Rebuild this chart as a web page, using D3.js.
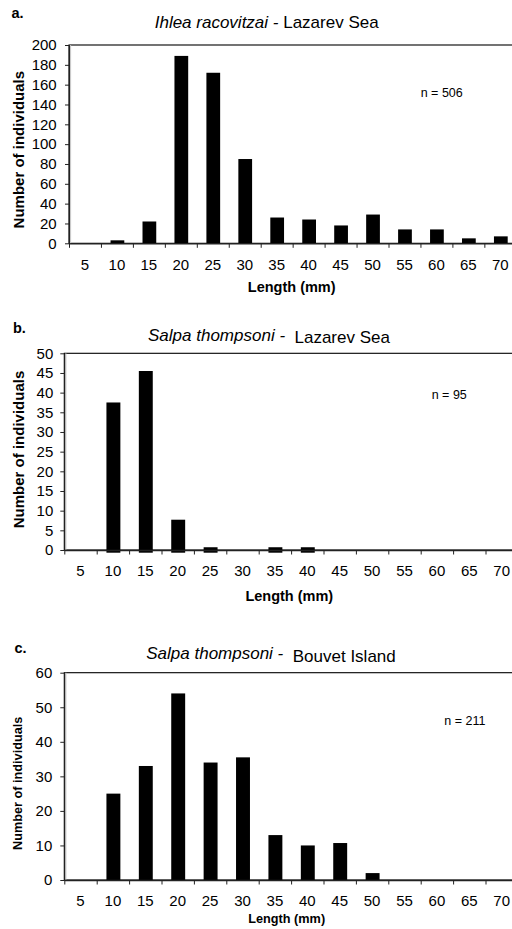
<!DOCTYPE html>
<html><head><meta charset="utf-8">
<script src="https://cdn.jsdelivr.net/npm/d3@7"></script>
<style>
html,body{margin:0;padding:0;background:#fff;}
svg{display:block;font-family:"Liberation Sans",Arial,sans-serif;}
</style></head>
<body>
<svg id="chart" width="512" height="929"></svg>
<script>
// ---- data ----
const lengthCategories = [5, 10, 15, 20, 25, 30, 35, 40, 45, 50, 55, 60, 65, 70];
const ihleaLazarev = [0, 3, 22, 189, 172, 85, 26, 24, 18, 29, 14, 14, 5, 7];
const salpaLazarev = [0, 37.5, 45.5, 7.7, 0.7, 0, 0.7, 0.7, 0, 0, 0, 0, 0, 0];
const salpaBouvet = [0, 25, 33, 54, 34, 35.5, 13, 10, 10.7, 2, 0, 0, 0, 0];
const ticksA = [0, 20, 40, 60, 80, 100, 120, 140, 160, 180, 200];
const ticksB = [0, 5, 10, 15, 20, 25, 30, 35, 40, 45, 50];
const ticksC = [0, 10, 20, 30, 40, 50, 60];
const panelLetters = ["a.", "b.", "c."];
const titleSpecies = ["Ihlea racovitzai", "Salpa thompsoni", "Salpa thompsoni"];
const titleRegions = ["Lazarev Sea", "Lazarev Sea", "Bouvet Island"];
const sampleSizes = ["n = 506", "n = 95", "n = 211"];
const xTitle = "Length (mm)";
const yTitle = "Number of individuals";

const svg = d3.select("#chart");
svg.append("rect").attr("width", 512).attr("height", 929).attr("fill", "#fff");

const panels = [
  {vals: ihleaLazarev, ticks: ticksA, max: 200, left: 69, catW: 31.95, top: 45, base: 243.3,
   letter: {x: 11.5, y: 18.3}, title: {x: 266.7, y: 28.3, dy2: 0, sep: " - "},
   n: {x: 420.7, y: 96.7}, yt: {x: 24, y: 149.7, fs: 15}, xt: {x: 291.7, y: 291.7, fs: 14.5},
   xlabY: 26.7, ylabPad: 8.3, barExt: 0},
  {vals: salpaLazarev, ticks: ticksB, max: 50, left: 64.3, catW: 32.4, top: 353.3, base: 550,
   letter: {x: 13, y: 333.3}, title: {x: 269, y: 340.7, dy2: 2.6, sep: " -  "},
   n: {x: 431.7, y: 399}, yt: {x: 24, y: 449.5, fs: 15}, xt: {x: 289.3, y: 601, fs: 14.5},
   xlabY: 26, ylabPad: 7, barExt: 2.7},
  {vals: salpaBouvet, ticks: ticksC, max: 60, left: 64.3, catW: 32.4, top: 672.7, base: 880,
   letter: {x: 14.5, y: 653.3}, title: {x: 271, y: 659.3, dy2: 2.4, sep: " -  "},
   n: {x: 444.3, y: 725}, yt: {x: 21.7, y: 783.3, fs: 12.7}, xt: {x: 286.7, y: 923.3, fs: 12.7},
   xlabY: 26.3, ylabPad: 8, barExt: 0}
];

panels.forEach((p, i) => {
  const g = svg.append("g");
  const right = p.left + p.catW * lengthCategories.length;
  const x = d3.scaleBand().domain(lengthCategories).range([p.left, right]).padding(0);
  const xEdge = d3.scaleLinear().domain([0, lengthCategories.length]).range([p.left, right]);
  const y = d3.scaleLinear().domain([0, p.max]).range([p.base, p.top]);

  // plot area border (top / right)
  g.append("rect").attr("x", p.left).attr("y", p.top)
    .attr("width", right - p.left).attr("height", p.base - p.top)
    .attr("fill", "none").attr("stroke", "#000").attr("stroke-width", 1.1);

  // bars
  const bw = x.bandwidth() * 0.43;
  g.selectAll("rect.bar").data(lengthCategories.map((c, k) => ({c, v: p.vals[k]})).filter(d => d.v > 0))
    .enter().append("rect").attr("class", "bar")
    .attr("x", d => x(d.c) + x.bandwidth() / 2 - bw / 2 + 0.5)
    .attr("y", d => y(d.v))
    .attr("width", bw)
    .attr("height", d => y(0) - y(d.v) + p.barExt)
    .attr("fill", "#000");

  // y axis
  const ya = g.append("g").attr("transform", `translate(${p.left},0)`)
    .call(d3.axisLeft(y).tickValues(p.ticks).tickSize(4).tickPadding(p.ylabPad).tickSizeOuter(0));
  ya.select(".domain").attr("stroke", "#222").attr("stroke-width", 1.3);
  ya.selectAll(".tick line").attr("stroke", "#222").attr("stroke-width", 1);
  ya.selectAll("text").attr("font-size", 15).attr("fill", "#000")
    .attr("font-family", "'Liberation Sans',Arial,sans-serif");
  g.append("line").attr("x1", p.left + 1.6).attr("x2", p.left + 1.6)
    .attr("y1", p.top).attr("y2", p.base).attr("stroke", "#c8c8c8").attr("stroke-width", 1);

  // x axis: ticks at category edges
  const xe = g.append("g").attr("transform", `translate(0,${p.base})`)
    .call(d3.axisBottom(xEdge).ticks(lengthCategories.length).tickValues(d3.range(0, lengthCategories.length + 1))
      .tickSize(4.5).tickSizeOuter(0).tickFormat(""));
  xe.select(".domain").attr("stroke", "#222").attr("stroke-width", 1.3);
  xe.selectAll(".tick line").attr("stroke", "#222").attr("stroke-width", 1);
  // x labels at category centres
  const xl = g.append("g").attr("transform", `translate(0,${p.base})`)
    .call(d3.axisBottom(x).tickSize(0).tickPadding(p.xlabY - 10.6));
  xl.select(".domain").remove();
  xl.selectAll("text").attr("font-size", 15).attr("fill", "#000")
    .attr("font-family", "'Liberation Sans',Arial,sans-serif");

  // panel letter
  g.append("text").attr("x", p.letter.x).attr("y", p.letter.y)
    .attr("font-size", 14.5).attr("font-weight", "bold").text(panelLetters[i]);

  // title
  const t = g.append("text").attr("x", p.title.x).attr("y", p.title.y)
    .attr("text-anchor", "middle").attr("font-size", 17);
  t.append("tspan").attr("font-style", "italic").text(titleSpecies[i] + p.title.sep.trimEnd());
  t.append("tspan").attr("dy", p.title.dy2).attr("xml:space", "preserve")
    .text(p.title.sep.slice(p.title.sep.trimEnd().length) + titleRegions[i]);

  // n
  g.append("text").attr("x", p.n.x).attr("y", p.n.y).attr("font-size", 12.5).text(sampleSizes[i]);

  // axis titles
  g.append("text").attr("transform", `translate(${p.yt.x},${p.yt.y}) rotate(-90)`)
    .attr("text-anchor", "middle").attr("font-weight", "bold").attr("font-size", p.yt.fs).text(yTitle);
  g.append("text").attr("x", p.xt.x).attr("y", p.xt.y)
    .attr("text-anchor", "middle").attr("font-weight", "bold").attr("font-size", p.xt.fs).text(xTitle);
});
</script>
</body></html>
